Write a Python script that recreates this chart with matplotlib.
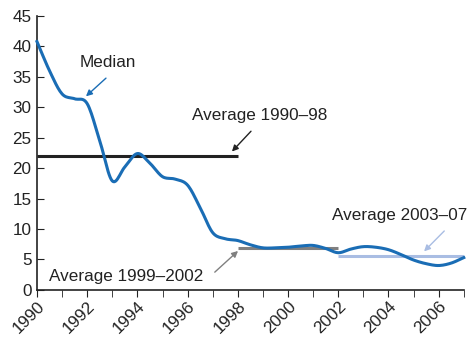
import matplotlib
matplotlib.use('Agg')
import numpy as np
import matplotlib.pyplot as plt

plt.rcParams['font.family'] = ['Liberation Sans', 'DejaVu Sans']

# Median, every half year
years = [1990, 1990.5, 1991, 1991.5, 1992, 1992.5, 1993, 1993.5, 1994, 1994.5,
         1995, 1995.5, 1996, 1996.5, 1997, 1997.5, 1998, 1998.5, 1999, 1999.5,
         2000, 2000.5, 2001, 2001.5, 2002, 2002.5, 2003, 2003.5, 2004, 2004.5,
         2005, 2005.5, 2006, 2006.5, 2007]
median = [40.8, 36.0, 32.2, 31.4, 30.6, 24.5, 17.9, 20.2, 22.4, 20.8,
          18.6, 18.2, 17.2, 13.5, 9.4, 8.4, 8.1, 7.4, 6.9, 6.9,
          7.0, 7.2, 7.3, 6.8, 6.1, 6.7, 7.1, 7.0, 6.6, 5.8,
          4.9, 4.3, 4.0, 4.4, 5.3]

# Period averages
avg_spans = [(1990, 1998), (1998, 2002), (2002, 2007)]
avg_values = [22.0, 6.8, 5.6]
avg_colors = ['#222222', '#808080', '#a9bde3']

xticks = list(range(1990, 2008, 2))


def smooth(x, y, n=12):
    # Catmull-Rom curve through the read points, only to draw them smoothly
    x = np.asarray(x, float)
    y = np.asarray(y, float)
    px = np.concatenate([[2 * x[0] - x[1]], x, [2 * x[-1] - x[-2]]])
    py = np.concatenate([[2 * y[0] - y[1]], y, [2 * y[-1] - y[-2]]])
    t = np.linspace(0, 1, n, endpoint=False)
    xs, ys = [], []
    for i in range(1, len(px) - 2):
        for p, out in ((px, xs), (py, ys)):
            p0, p1, p2, p3 = p[i - 1], p[i], p[i + 1], p[i + 2]
            out.extend(0.5 * (2 * p1 + (-p0 + p2) * t
                              + (2 * p0 - 5 * p1 + 4 * p2 - p3) * t ** 2
                              + (-p0 + 3 * p1 - 3 * p2 + p3) * t ** 3))
    xs.append(x[-1])
    ys.append(y[-1])
    return xs, ys


fs = 12.3
txt = '#222222'

fig = plt.figure(figsize=(4.68, 3.41), dpi=100)
ax = fig.add_axes([0.079, 0.15, 0.912, 0.803])

for (x0, x1), v, c in zip(avg_spans, avg_values, avg_colors):
    ax.plot([x0, x1], [v, v], color=c, lw=2.2, solid_capstyle='butt', zorder=2)

sx, sy = smooth(years, median)
ax.plot(sx, sy, color='#1a6db5', lw=2.2, zorder=3, clip_on=False)

# annotations
ax.text(1992.83, 37.4, 'Median', ha='center', va='center', fontsize=fs, color=txt)
ax.annotate('', xy=(1991.87, 31.5), xytext=(1992.83, 35.1),
            arrowprops=dict(arrowstyle='-|>', color='#1a6db5', lw=1, mutation_scale=9))

ax.text(1998.88, 28.6, 'Average 1990\u201398', ha='center', va='center',
        fontsize=fs, color=txt)
ax.annotate('', xy=(1997.69, 22.4), xytext=(1998.6, 26.4),
            arrowprops=dict(arrowstyle='-|>', color='#222222', lw=1, mutation_scale=9))

ax.text(1993.57, 2.2, 'Average 1999\u20132002', ha='center', va='center',
        fontsize=fs, color=txt)
ax.annotate('', xy=(1998.09, 6.7), xytext=(1997.0, 2.6),
            arrowprops=dict(arrowstyle='-|>', color='#808080', lw=1, mutation_scale=9))

ax.text(2004.46, 12.3, 'Average 2003\u201307', ha='center', va='center',
        fontsize=fs, color=txt)
ax.annotate('', xy=(2005.34, 6.0), xytext=(2006.3, 10.0),
            arrowprops=dict(arrowstyle='-|>', color='#a9bde3', lw=1, mutation_scale=9))

ax.set_xlim(1990, 2007)
ax.set_ylim(0, 45)
ax.set_yticks(range(0, 46, 5))
ax.set_xticks(xticks)
ax.set_xticks(range(1990, 2008), minor=True)
ax.set_xticklabels([str(y) for y in xticks], rotation=45, ha='right',
                   rotation_mode='anchor', fontsize=fs, color=txt)
ax.tick_params(axis='y', direction='in', length=5, labelsize=fs,
               labelcolor=txt, color=txt, pad=4)
ax.tick_params(axis='x', which='both', direction='out', length=5, color=txt)
ax.tick_params(axis='x', which='major', pad=1)
for s in ['top', 'right']:
    ax.spines[s].set_visible(False)
for s in ['left', 'bottom']:
    ax.spines[s].set_color(txt)
    ax.spines[s].set_linewidth(1.2)

fig.savefig('out.png', dpi=100)
